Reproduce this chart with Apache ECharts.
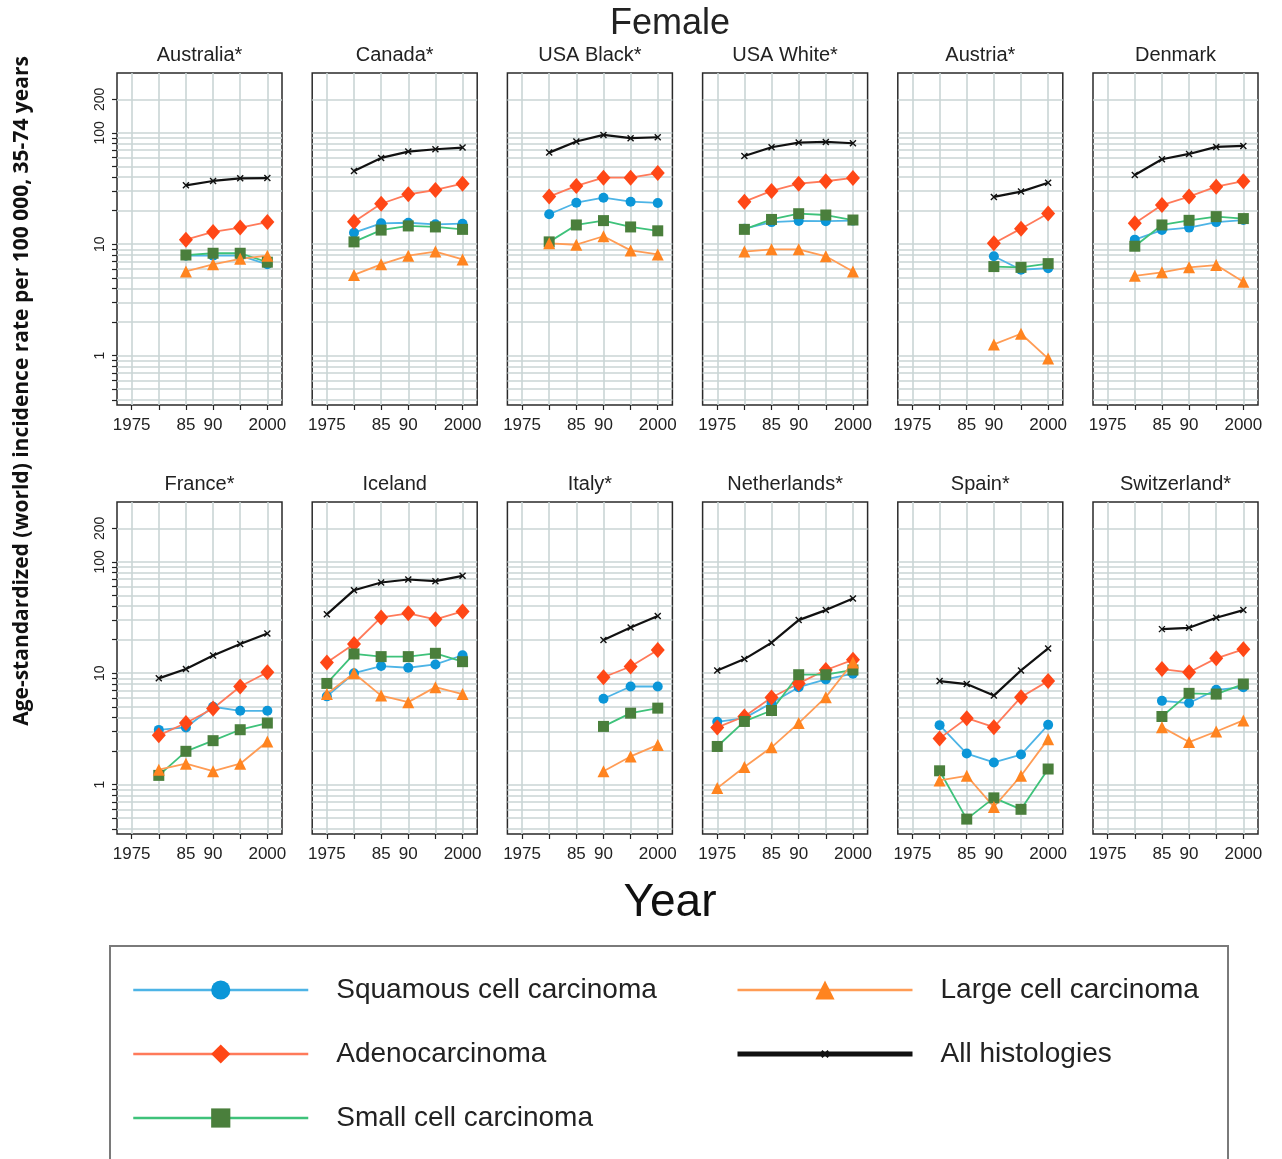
<!DOCTYPE html>
<html>
<head>
<meta charset="utf-8">
<script src="https://cdn.jsdelivr.net/npm/echarts@6/dist/echarts.min.js"></script>
<style>
  html, body { margin: 0; padding: 0; background: #fff; }
  #chart { width: 1282px; height: 1159px; }
</style>
</head>
<body>
<div id="chart"></div>
<script>
// panel data, one row per country, columns = years (null = not available)
const years = [1975, 1980, 1985, 1990, 1995, 2000];
const countries = ['Australia*', 'Canada*', 'USA Black*', 'USA White*', 'Austria*', 'Denmark',
  'France*', 'Iceland', 'Italy*', 'Netherlands*', 'Spain*', 'Switzerland*'];
const n = null;

const squamous = [
  [n, n, 7.9, 7.9, 7.9, 6.6],
  [n, 12.7, 15.4, 15.6, 15.1, 15.3],
  [n, 18.6, 23.6, 26.2, 24.1, 23.5],
  [n, 13.8, 15.8, 16.2, 16.1, 16.3],
  [n, n, n, 7.8, 5.9, 6.1],
  [n, 11.0, 13.4, 14.1, 15.8, 16.5],
  [n, 3.1, 3.26, 5.0, 4.6, 4.6],
  [6.2, 10.0, 11.6, 11.2, 12.0, 14.5],
  [n, n, n, 5.9, 7.6, 7.6],
  [3.66, 3.95, 5.4, 7.5, 8.8, 9.9],
  [n, 3.42, 1.9, 1.58, 1.86, 3.44],
  [n, n, 5.65, 5.4, 7.1, 7.5]
];
const adeno = [
  [n, n, 11.0, 12.9, 14.1, 15.8],
  [n, 15.9, 23.1, 28.1, 30.7, 35],
  [n, 26.8, 33.4, 39.6, 39.6, 43.6],
  [n, 24.1, 30.1, 35, 36.8, 39.4],
  [n, n, n, 10.2, 13.8, 18.9],
  [n, 15.4, 22.5, 26.8, 32.9, 36.8],
  [n, 2.77, 3.57, 4.83, 7.6, 10.2],
  [12.5, 18.3, 31.7, 34.5, 30.5, 35.9],
  [n, n, n, 9.2, 11.5, 16.2],
  [3.26, 4.09, 6.06, 8.1, 10.7, 13.2],
  [n, 2.6, 3.95, 3.28, 6.1, 8.5],
  [n, n, 10.9, 10.2, 13.6, 16.4]
];
const smallCell = [
  [n, n, 8.0, 8.3, 8.3, 6.9],
  [n, 10.5, 13.4, 14.6, 14.3, 13.6],
  [n, 10.5, 14.9, 16.3, 14.3, 13.2],
  [n, 13.6, 16.7, 18.8, 18.3, 16.5],
  [n, n, n, 6.3, 6.2, 6.7],
  [n, 9.6, 14.9, 16.4, 17.7, 17.0],
  [n, 1.21, 1.99, 2.48, 3.11, 3.57],
  [8.1, 14.9, 14.1, 14.1, 15.1, 12.7],
  [n, n, n, 3.33, 4.38, 4.86],
  [2.2, 3.69, 4.63, 9.7, 9.7, 10.7],
  [n, 1.33, 0.49, 0.76, 0.60, 1.38],
  [n, n, 4.09, 6.6, 6.5, 8.0]
];
const largeCell = [
  [n, n, 5.7, 6.6, 7.4, 7.9],
  [n, 5.3, 6.6, 7.9, 8.6, 7.3],
  [n, 10.2, 9.9, 11.8, 8.8, 8.1],
  [n, 8.6, 9.0, 9.0, 7.8, 5.7],
  [n, n, n, 1.26, 1.57, 0.94],
  [n, 5.2, 5.6, 6.2, 6.5, 4.6],
  [n, 1.36, 1.54, 1.32, 1.54, 2.44],
  [6.5, 10.0, 6.3, 5.5, 7.5, 6.5],
  [n, n, n, 1.32, 1.79, 2.27],
  [0.93, 1.44, 2.16, 3.57, 6.1, 12.5],
  [n, 1.09, 1.2, 0.63, 1.2, 2.56],
  [n, n, 3.28, 2.41, 3.0, 3.77]
];
const allHist = [
  [n, n, 33.8, 37, 39.1, 39.3],
  [n, 45.5, 59.6, 67.9, 71.3, 73.8],
  [n, 66.5, 83.6, 95.9, 89.6, 91.4],
  [n, 62.1, 74.3, 81.8, 83, 80.7],
  [n, n, n, 26.6, 29.7, 35.7],
  [n, 41.9, 58, 64.7, 74.8, 76.4],
  [n, 9.0, 10.9, 14.4, 18.3, 22.7],
  [33.8, 55.7, 65.3, 69.5, 67.1, 75.0],
  [n, n, n, 19.9, 25.8, 32.6],
  [10.6, 13.4, 18.8, 30.0, 36.9, 46.9],
  [n, 8.5, 8.0, 6.3, 10.6, 16.7],
  [n, n, 24.9, 25.6, 31.5, 36.9]
];

// ticks and grid lines
const xTicks = [1975, 1980, 1985, 1990, 1995, 2000];
const xLabels = [1975, 1985, 1990, 2000];
const yLabels = [1, 10, 100, 200];
const yGrid = [0.4, 0.5, 0.6, 0.7, 0.8, 0.9, 1, 2, 3, 4, 5, 6, 7, 8, 9,
  10, 20, 30, 40, 50, 60, 70, 80, 90, 100, 200];

const font = 'Liberation Sans, Arial, sans-serif';
// small "x" drawn in the middle third of its box
const crossPath = 'path://M-10,-10M0,0L10,10M10,0L0,10M20,20';
const hist = [
  { name: 'Squamous cell carcinoma', data: squamous, symbol: 'circle', size: 10, mark: '#0b96d8', line: '#4db4e6', width: 1.8 },
  { name: 'Adenocarcinoma', data: adeno, symbol: 'diamond', size: [14, 16], mark: '#ff4716', line: '#ff7a5a', width: 1.8 },
  { name: 'Small cell carcinoma', data: smallCell, symbol: 'rect', size: 11, mark: '#4a7f3c', line: '#3ec27a', width: 1.8 },
  { name: 'Large cell carcinoma', data: largeCell, symbol: 'triangle', size: 12, mark: '#ff8420', line: '#ff9c55', width: 1.8 },
  { name: 'All histologies', data: allHist, symbol: crossPath, size: 18, mark: '#111', line: '#111', width: 2.2 }
];
const isCross = h => h.symbol === crossPath;

const gLeft = 117, gStep = 195.2, gW = 165, gTops = [73, 502], gH = 332;
const grids = [], xAxes = [], yAxes = [], series = [], titles = [];

countries.forEach((c, p) => {
  const col = p % 6, row = Math.floor(p / 6);
  const left = gLeft + col * gStep;
  grids.push({ left: left, top: gTops[row], width: gW, height: gH,
    show: true, borderColor: '#2a2a2a', borderWidth: 1.5, backgroundColor: '#fff' });
  titles.push({ text: c, left: left + gW / 2, top: gTops[row] - 28, textAlign: 'center', padding: 0,
    textStyle: { fontFamily: font, fontSize: 20, fontWeight: 'normal', color: '#222' } });
  xAxes.push({
    type: 'value', gridIndex: p, min: 1972.3, max: 2002.7,
    splitLine: { show: false }, axisLine: { show: false },
    axisTick: { show: true, customValues: xTicks, length: 5, lineStyle: { color: '#222', width: 1.2 } },
    axisLabel: { customValues: xLabels, margin: 12, fontFamily: font, fontSize: 17, color: '#222',
      formatter: v => (v === 1985 ? '85' : v === 1990 ? '90' : String(v)) }
  });
  const first = col === 0;
  yAxes.push({
    type: 'log', gridIndex: p, min: 0.36, max: 345,
    splitLine: { show: false }, axisLine: { show: false },
    axisTick: { show: first, customValues: yGrid, length: 5, lineStyle: { color: '#222', width: 1.2 } },
    axisLabel: { show: first, customValues: yLabels, rotate: 90, margin: 10, fontFamily: font, fontSize: 14, color: '#222' }
  });
  // grid lines through the axis scales
  series.push({
    type: 'line', xAxisIndex: p, yAxisIndex: p, data: [], silent: true, z: 1,
    markLine: {
      silent: true, z: 1, symbol: ['none', 'none'], label: { show: false }, animation: false,
      lineStyle: { color: '#cad5d5', width: 1.6, type: 'solid' },
      data: yGrid.map(v => ({ yAxis: v })).concat(xTicks.map(v => ({ xAxis: v })))
    }
  });
  hist.forEach(h => {
    const pts = [];
    years.forEach((y, i) => { if (h.data[p][i] != null) pts.push([y, h.data[p][i]]); });
    series.push({
      name: h.name, type: 'line', xAxisIndex: p, yAxisIndex: p, data: pts, z: 3,
      symbol: h.symbol, symbolSize: h.size, showSymbol: true,
      lineStyle: { color: h.line, width: h.width },
      itemStyle: { color: h.mark, borderColor: h.mark, borderWidth: isCross(h) ? 1.4 : 0 }
    });
  });
});

titles.push({ text: 'Female', left: 670, top: 6, textAlign: 'center', padding: 0,
  textStyle: { fontFamily: font, fontSize: 36, fontWeight: 'normal', color: '#222' } });
titles.push({ text: 'Year', left: 670, top: 880, textAlign: 'center', padding: 0,
  textStyle: { fontFamily: font, fontSize: 46, fontWeight: 'normal', color: '#111' } });

const legendText = { fontFamily: font, fontSize: 28, color: '#222', lineHeight: 24, padding: [0, 0, 0, 23] };
const legItem = (h, w) => ({ name: h.name, lineStyle: { color: h.line, width: w },
  itemStyle: { color: h.mark, borderColor: h.mark, borderWidth: isCross(h) ? 2 : 0 } });

const option = {
  animation: false,
  backgroundColor: '#fff',
  title: titles,
  grid: grids,
  xAxis: xAxes,
  yAxis: yAxes,
  legend: [
    { left: 132, top: 976, padding: 0, orient: 'vertical', itemWidth: 175, itemHeight: 24, itemGap: 36,
      selectedMode: false, textStyle: legendText,
      data: [legItem(hist[0], 2.5), legItem(hist[1], 2.5), legItem(hist[2], 2.5)] },
    { left: 735, top: 976, padding: 0, orient: 'vertical', itemWidth: 175, itemHeight: 24, itemGap: 36,
      selectedMode: false, textStyle: legendText,
      data: [legItem(hist[3], 2.5), legItem(hist[4], 5)] }
  ],
  graphic: [
    { type: 'rect', shape: { x: 110, y: 946, width: 1118, height: 240 }, z: -1,
      style: { fill: 'none', stroke: '#7a7a7a', lineWidth: 2 } },
    { type: 'text', x: 22, y: 391, rotation: Math.PI / 2,
      style: { text: 'Age-standardized (world) incidence rate per 100 000, 35-74 years',
        font: 'bold 21px "Open Sans", sans-serif', fill: '#111', align: 'center', verticalAlign: 'middle' } }
  ],
  series: series
};

const chart = echarts.init(document.getElementById('chart'), null, { renderer: 'canvas' });
chart.setOption(option);
</script>
</body>
</html>
